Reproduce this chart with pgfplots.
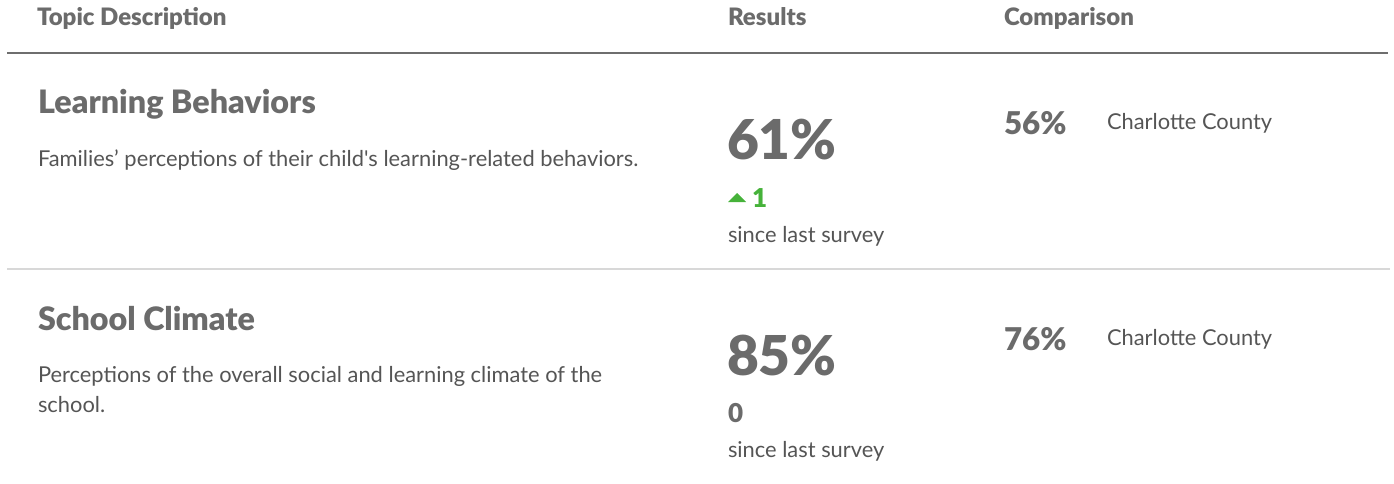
\documentclass[border=0pt]{standalone}
\usepackage{pgfplots}
\pgfplotsset{compat=1.18}
\usepackage{pgfplotstable}
\usepackage{fontspec}
\setmainfont{Lato}[BoldFont={Lato Black}]
\definecolor{headgray}{HTML}{6B6B6B}
\definecolor{bodygray}{HTML}{555555}
\definecolor{upgreen}{HTML}{46B23A}
\definecolor{rulegray}{HTML}{6E6E6E}
\definecolor{sepgray}{HTML}{D8D8D8}

% topic data: result (%), change since last survey, comparison (%)
\pgfplotstableread{
row result change comp
1 61 1 56
2 85 0 76
}\topicdata

\pgfplotstablegetelem{0}{result}\of\topicdata \edef\resA{\pgfplotsretval}
\pgfplotstablegetelem{0}{change}\of\topicdata \edef\chgA{\pgfplotsretval}
\pgfplotstablegetelem{0}{comp}\of\topicdata \edef\cmpA{\pgfplotsretval}
\pgfplotstablegetelem{1}{result}\of\topicdata \edef\resB{\pgfplotsretval}
\pgfplotstablegetelem{1}{change}\of\topicdata \edef\chgB{\pgfplotsretval}
\pgfplotstablegetelem{1}{comp}\of\topicdata \edef\cmpB{\pgfplotsretval}

\tikzset{
  lbl/.style={inner sep=0pt, outer sep=0pt, anchor=base west},
  hdr/.style={lbl, font=\fontsize{18}{22}\selectfont\bfseries, text=headgray},
  ttl/.style={lbl, font=\fontsize{24.2}{29}\selectfont\bfseries, text=headgray},
  bdy/.style={lbl, font=\fontsize{16.4}{20}\selectfont, text=bodygray},
  big/.style={lbl, font=\fontsize{41.2}{48}\selectfont\bfseries, text=headgray},
  chg/.style={lbl, font=\fontsize{19.5}{23}\selectfont\bfseries},
  cmp/.style={lbl, font=\fontsize{23.5}{28}\selectfont\bfseries, text=headgray},
}

\begin{document}
\begin{tikzpicture}
\begin{axis}[
  at={(0,0)}, anchor=south west,
  width=1045.5pt, height=362.25pt, scale only axis,
  xmin=0, xmax=1394, ymin=0, ymax=483, y dir=reverse,
  hide axis, clip=false,
]
% header
\node[hdr] at (axis cs:37,26) {Topic Description};
\node[hdr] at (axis cs:728,26) {Results};
\node[hdr] at (axis cs:1004,26) {Comparison};
\draw[rulegray, line width=1.5pt] (axis cs:7,52.7) -- (axis cs:1388,52.7);

% row 1
\node[ttl] at (axis cs:38,114) {Learning Behaviors};
\node[bdy] at (axis cs:38,167) {Families’ perceptions of their child\textquotesingle s learning-related behaviors.};
\node[big] at (axis cs:727,160) {\resA\%};
\fill[upgreen] (axis cs:728,202) -- (axis cs:737,193) -- (axis cs:746,202) -- cycle;
\node[chg, text=upgreen] at (axis cs:752,207) {\chgA};
\node[bdy] at (axis cs:728,242) {since last survey};
\node[cmp] at (axis cs:1004,135) {\cmpA\%};
\node[bdy] at (axis cs:1107,130) {Charlotte County};

\draw[sepgray, line width=1.5pt] (axis cs:7,268.7) -- (axis cs:1390,268.7);

% row 2
\node[ttl] at (axis cs:38,330) {School Climate};
\node[bdy] at (axis cs:38,382) {Perceptions of the overall social and learning climate of the};
\node[bdy] at (axis cs:38,412) {school.};
\node[big] at (axis cs:727,375) {\resB\%};
\node[chg, text=headgray] at (axis cs:728,422) {\chgB};
\node[bdy] at (axis cs:728,457) {since last survey};
\node[cmp] at (axis cs:1004,350) {\cmpB\%};
\node[bdy] at (axis cs:1107,345) {Charlotte County};
\end{axis}
\pgfresetboundingbox
\path (0,0) rectangle (1045.5pt,362.25pt);
\end{tikzpicture}
\end{document}
